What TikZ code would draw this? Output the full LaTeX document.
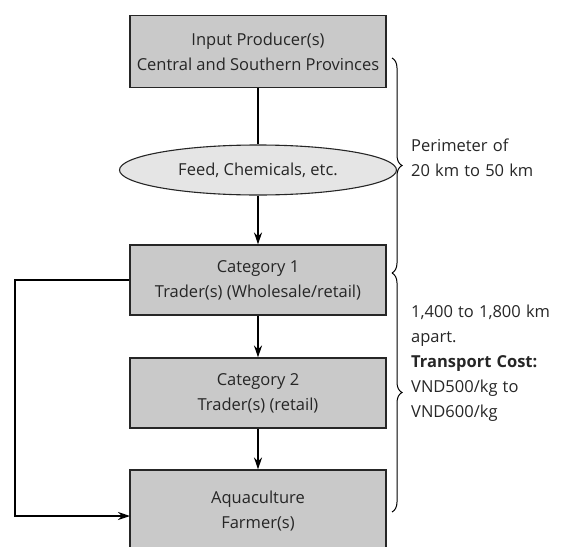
\documentclass[tikz,border=0pt]{standalone}
\usepackage{fontspec}
\setmainfont{Open Sans}
\newfontfamily\notefont[WordSpace=1.2]{Open Sans}
\usetikzlibrary{arrows.meta,decorations.pathreplacing,shapes.geometric}
\begin{document}
\begin{tikzpicture}[x=1pt,y=-1pt,
  txt/.style={font=\fontsize{16.5}{25}\selectfont,text=black!85},
  stage/.style={txt,draw=black!85,line width=1.1pt,fill=black!21,
    minimum width=256pt,minimum height=72pt,align=center,inner sep=0pt},
  supply/.style={txt,draw=black!85,line width=1.1pt,fill=black!10,
    ellipse,minimum width=277pt,minimum height=50pt,inner sep=0pt},
  flow/.style={line width=1.4pt,-{Stealth[length=12pt,width=8pt]}},
  link/.style={line width=1.4pt},
  span/.style={line width=1pt,decorate,decoration={brace,amplitude=10pt}},
  note/.style={txt,font=\notefont\fontsize{16.5}{25}\selectfont,
    anchor=north west,align=left,inner sep=0pt}]
\useasboundingbox (0,0) rectangle (583,546);
\begin{scope}
\clip (0,0) rectangle (583,546);
\node[stage] (input) at (258,51.5) {Input Producer(s)\\Central and Southern Provinces};
\node[supply] (feed) at (258,170) {Feed, Chemicals, etc.};
\node[stage,minimum height=70pt] (cat1) at (258,280) {Category 1\\Trader(s) (Wholesale/retail)};
\node[stage,minimum height=70pt] (cat2) at (258,393) {Category 2\\Trader(s) (retail)};
\node[stage,minimum height=82pt] (farm) at (258,511) {Aquaculture\\Farmer(s)};
\coordinate (bend) at (15,280);
\coordinate (farmin) at (130,516);

\draw[link] (input) -- (feed);
\draw[flow] (feed) -- (cat1);
\draw[flow] (cat1) -- (cat2);
\draw[flow] (cat2) -- (farm);
\draw[flow] (cat1.west) -- (bend) |- (farmin);

\draw[span] (392,58) -- (392,273);
\draw[span] (392,273) -- (392,512);

\node[note] (perim) at (411,139) {Perimeter of\\20 km to 50 km};
\node[note] (dist) at (411,305) {1,400 to 1,800 km\\apart.\\\textbf{Transport Cost:}\\VND500/kg to\\VND600/kg};
\end{scope}
\end{tikzpicture}
\end{document}
